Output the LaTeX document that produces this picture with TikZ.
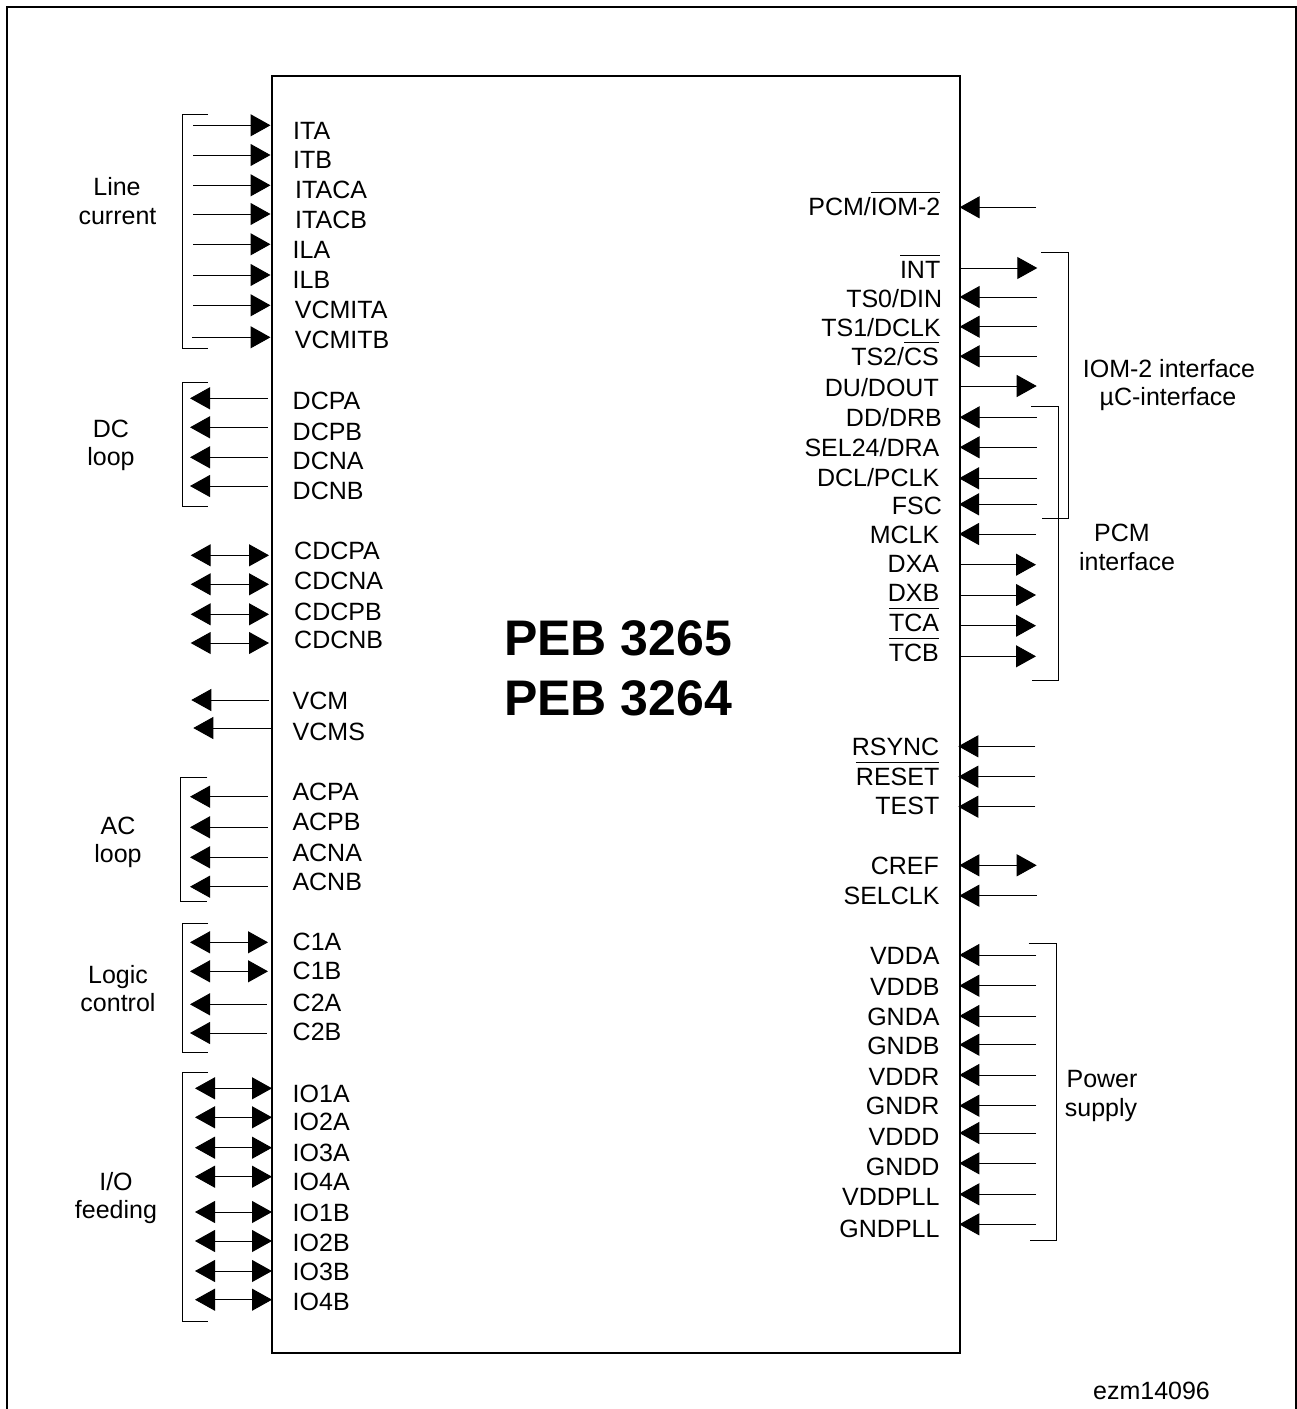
\documentclass[tikz,border=0pt]{standalone}
\usepackage{fontspec}
\setmainfont{Liberation Sans}
\usetikzlibrary{arrows.meta}
\newcommand\ol[1]{\setbox0=\hbox{#1}\rlap{\rule[22.5pt]{\wd0}{1pt}}#1}
\begin{document}
\begin{tikzpicture}[x=1pt,y=-1pt,
  sigl/.style={inner sep=0pt,font=\fontsize{25}{25}\selectfont},
  grp/.style={inner sep=0pt,anchor=base,font=\fontsize{25}{25}\selectfont},
  ttl/.style={inner sep=0pt,anchor=base,font=\fontsize{50}{50}\selectfont\bfseries},
  wire/.style={line width=1pt,black},
  tipa/.tip={Triangle[length=20pt,width=22pt]},
  sout/.style={wire,-tipa},
  bidir/.style={wire,tipa-tipa},
  brk/.style={line width=1pt,black},
  frm/.style={line width=2pt,black},
  chipbox/.style={draw,line width=1.4pt,black,minimum width=688pt,minimum height=1277pt,inner sep=0pt}]
\useasboundingbox (0,0) rectangle (1297,1409);
\fill[white] (0,0) rectangle (1297,1409);
\draw[frm] (7,1412) -- (7,7) -- (1295.8,7) -- (1295.8,1412);
\node[chipbox] (chip) at (616,714.5) {};
\node[ttl] (t1) at (618,655) {PEB 3265};
\node[ttl] (t2) at (618,715) {PEB 3264};
\node[grp] (foot) at (1151.5,1399) {ezm14096};

% brackets
\draw[brk] (208,114) -- (182,114) -- (182,348) -- (208,348);
\draw[brk] (208,382) -- (182,382) -- (182,506.7) -- (208,506.7);
\draw[brk] (207.3,777.3) -- (180.7,777.3) -- (180.7,901.3) -- (207.3,901.3);
\draw[brk] (208,923) -- (182.3,923) -- (182.3,1052.3) -- (208,1052.3);
\draw[brk] (208,1072) -- (182.3,1072) -- (182.3,1321.7) -- (208,1321.7);
\draw[brk] (1041.3,252.3) -- (1068.7,252.3) -- (1068.7,518) -- (1042.3,518);
\draw[brk] (1031,406.7) -- (1058.7,406.7) -- (1058.7,680) -- (1032,680);
\draw[brk] (1028.7,943.3) -- (1056.7,943.3) -- (1056.7,1240.3) -- (1030,1240.3);

% group labels
\node[grp] (g1a) at (117,195) {Line};
\node[grp] (g1b) at (117.5,224) {current};
\node[grp] (g2a) at (111,437) {DC};
\node[grp] (g2b) at (111,465) {loop};
\node[grp] (g3a) at (118,834) {AC};
\node[grp] (g3b) at (118,862) {loop};
\node[grp] (g4a) at (118,983) {Logic};
\node[grp] (g4b) at (118,1011) {control};
\node[grp] (g5a) at (116,1190) {I/O};
\node[grp] (g5b) at (116,1218) {feeding};
\node[grp] (g6a) at (1169,377) {IOM-2 interface};
\node[grp] (g6b) at (1168,405) {µC-interface};
\node[grp] (g7a) at (1122,541) {PCM};
\node[grp] (g7b) at (1127,570) {interface};
\node[grp] (g8a) at (1102,1087) {Power};
\node[grp] (g8b) at (1101,1116) {supply};

% left signals: name/text/label x/baseline/arrow y/tail/tip/style
\foreach \n/\t/\lx/\ly/\ay/\xa/\xb/\st in {
  ita/ITA/293/139.3/125.3/193/270.5/sout,
  itb/ITB/293/168.3/155/193/270.5/sout,
  itaca/ITACA/295/198.7/185.3/193/270.5/sout,
  itacb/ITACB/295/228.3/214/193/270.5/sout,
  ila/ILA/292.5/258.7/244.3/193/270.5/sout,
  ilb/ILB/292.5/288.7/275/193/270.5/sout,
  vcmita/VCMITA/294.7/318.7/305.3/193/270.5/sout,
  vcmitb/VCMITB/294.7/348.7/337.3/192/270.5/sout,
  dcpa/DCPA/292.5/409.3/398.3/267.7/190/sout,
  dcpb/DCPB/292.5/440/427.3/267.7/190/sout,
  dcna/DCNA/292.5/469/457.3/267.7/190/sout,
  dcnb/DCNB/292.5/499/486/267.7/190/sout,
  cdcpa/CDCPA/294/559/555.3/190.7/269/bidir,
  cdcna/CDCNA/294/589.3/584.3/190.7/269/bidir,
  cdcpb/CDCPB/294/620/614.3/190.7/269/bidir,
  cdcnb/CDCNB/294/648.7/643/190.7/269/bidir,
  vcm/VCM/292.5/709.3/700/269/191.3/sout,
  vcms/VCMS/292.5/740/728/271/193.3/sout,
  acpa/ACPA/292.3/800.7/796.7/267.7/190/sout,
  acpb/ACPB/292.3/830.7/827.3/267.7/190/sout,
  acna/ACNA/292.3/861/857.3/267.7/190/sout,
  acnb/ACNB/292.3/890/886.7/267.7/190/sout,
  cia/C1A/292.5/950/942.3/190/268/bidir,
  cib/C1B/292.5/979.3/971.3/190/268/bidir,
  cza/C2A/292.5/1011.7/1004.3/266.7/190/sout,
  czb/C2B/292.5/1040/1033/266.7/190/sout,
  ioia/IO1A/292.5/1102.2/1088.3/195/272/bidir,
  iota/IO2A/292.5/1130/1117.3/195/272/bidir,
  ioca/IO3A/292.5/1161/1147.7/195/272/bidir,
  ioda/IO4A/292.5/1190/1176.7/195/272/bidir,
  ioib/IO1B/292.5/1221/1212/195/272/bidir,
  iotb/IO2B/292.5/1251/1241/195/272/bidir,
  iocb/IO3B/292.5/1280/1271/195/272/bidir,
  iodb/IO4B/292.5/1310.7/1299.7/195/272/bidir}{
  \node[sigl,anchor=base west] (\n) at (\lx,\ly) {\t};
  \coordinate (\n-a) at (\xa,\ay);
  \coordinate (\n-b) at (\xb,\ay);
  \draw[\st] (\n-a) -- (\n-b);
}

% right signals
\foreach \n/\t/\lx/\ly/\ay/\xa/\xb/\st in {
  pcm/{PCM/\ol{IOM-2}}/940.5/215.7/207.3/1036/959.6/sout,
  int/{\ol{INT}}/940.5/278.3/268/960/1037.3/sout,
  tso/{TS0/DIN}/942.3/307.8/297/1036.7/959.6/sout,
  tsi/{TS1/DCLK}/941/336.7/326.7/1036.7/959.6/sout,
  tsz/{TS2/\ol{CS}}/939/365/356.3/1036.7/959.6/sout,
  du/{DU/DOUT}/939/396/386/960/1036.7/sout,
  dd/{DD/DRB}/942/426.7/417.3/1036.7/959.6/sout,
  sel/{SEL24/DRA}/939.5/456.7/447.3/1036.7/959.6/sout,
  dcl/{DCL/PCLK}/939.5/486.7/478.3/1037/959/sout,
  fsc/FSC/942/514/504.3/1037/959/sout,
  mclk/MCLK/939.5/543.3/534/1036/959/sout,
  dxa/DXA/939.3/572.7/564.7/960/1036/sout,
  dxb/DXB/939.5/601.7/595/960/1036/sout,
  tca/{\ol{TCA}}/939.3/631/625.7/960/1036/sout,
  tcb/{\ol{TCB}}/939/661.4/656.3/960/1036/sout,
  rsync/RSYNC/939.5/755/746.3/1035.3/958.3/sout,
  reset/{\ol{RESET}}/939.5/785.7/776.7/1035.3/958.3/sout,
  test/TEST/939.5/814.7/806.7/1035.3/958.3/sout,
  cref/CREF/939/874.3/865.3/959.3/1036.7/bidir,
  selclk/SELCLK/939.7/904.3/895.7/1036.7/959.3/sout,
  vdda/VDDA/939.7/964.3/955/1036/959.3/sout,
  vddb/VDDB/939.7/995/985.7/1036/959.3/sout,
  gnda/GNDA/939.7/1025.7/1016/1036/959.3/sout,
  gndb/GNDB/939.7/1054.3/1044.7/1036/959.3/sout,
  vddr/VDDR/939.7/1085.7/1075/1036/959.3/sout,
  gndr/GNDR/939.7/1114.3/1105.7/1036/959.3/sout,
  vddd/VDDD/939.7/1145/1133/1036/959.3/sout,
  gndd/GNDD/939.7/1175.7/1163.3/1036/959.3/sout,
  vddpll/VDDPLL/939.7/1205.5/1194.3/1036/959.3/sout,
  gndpll/GNDPLL/939.7/1237/1224.3/1036/959.3/sout}{
  \node[sigl,anchor=base east] (\n) at (\lx,\ly) {\t};
  \coordinate (\n-a) at (\xa,\ay);
  \coordinate (\n-b) at (\xb,\ay);
  \draw[\st] (\n-a) -- (\n-b);
}
\end{tikzpicture}
\end{document}
